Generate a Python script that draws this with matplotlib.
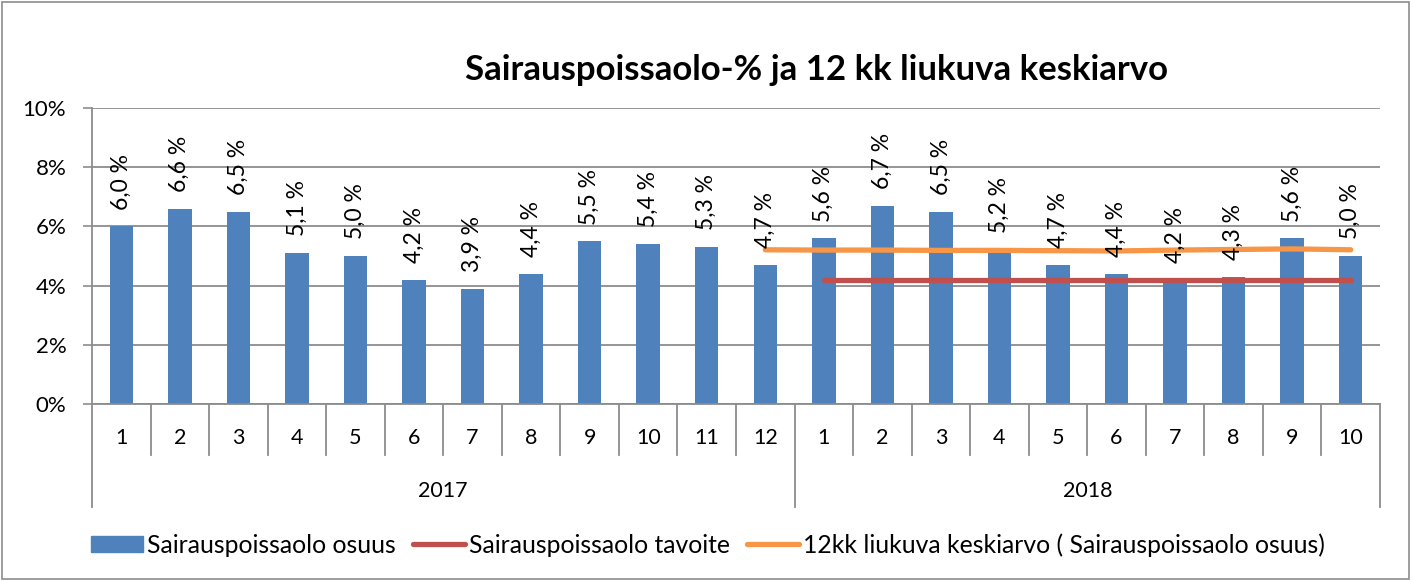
import matplotlib
matplotlib.use("Agg")
import matplotlib.pyplot as plt
from matplotlib.patches import Rectangle, Patch
from matplotlib.lines import Line2D
from matplotlib.ticker import FuncFormatter

plt.rcParams['font.family'] = ['Lato', 'DejaVu Sans']

# data
years = ["2017", "2018"]
months_2017 = ["1", "2", "3", "4", "5", "6", "7", "8", "9", "10", "11", "12"]
months_2018 = ["1", "2", "3", "4", "5", "6", "7", "8", "9", "10"]
osuus = [6.0, 6.6, 6.5, 5.1, 5.0, 4.2, 3.9, 4.4, 5.5, 5.4, 5.3, 4.7,
         5.6, 6.7, 6.5, 5.2, 4.7, 4.4, 4.2, 4.3, 5.6, 5.0]
tavoite = [4.2, 4.2, 4.2, 4.2, 4.2, 4.2, 4.2, 4.2, 4.2, 4.2]  # 2018 1-10
liukuva = [5.21, 5.20, 5.20, 5.19, 5.19, 5.18, 5.17, 5.20, 5.22, 5.24, 5.21]  # 2017/12 - 2018/10

title = "Sairauspoissaolo-% ja 12 kk liukuva keskiarvo"
legend_labels = ["Sairauspoissaolo osuus", "Sairauspoissaolo tavoite",
                 "12kk liukuva keskiarvo ( Sairauspoissaolo osuus)"]

BLUE = "#4F81BD"
RED = "#C0504D"
ORANGE = "#F79646"
GRID = "#8C8C8C"
FS = 15.5

months = months_2017 + months_2018
x = list(range(len(months)))
n17 = len(months_2017)

fig = plt.figure(figsize=(14.14, 5.81), dpi=100)
ax = fig.add_axes([92 / 1414, 1 - 404 / 581, (1380 - 92) / 1414, (404 - 108) / 581])

ax.bar(x, osuus, width=0.40, color=BLUE, zorder=2)
ax.plot(x[n17:], tavoite, color=RED, lw=3.8, solid_capstyle="round", zorder=3)
ax.plot(x[n17 - 1:], liukuva, color=ORANGE, lw=3.8, solid_capstyle="round", zorder=3)

# data labels, rotated like excel
for xi, v in zip(x, osuus):
    ax.annotate(f"{v:.1f} %".replace(".", ","), (xi, v), xytext=(0, 12),
                textcoords="offset points", rotation=90, ha="center", va="bottom",
                fontsize=16.5, zorder=4)

ax.set_xlim(-0.5, len(months) - 0.5)
ax.set_ylim(0, 10)
ax.set_yticks([0, 2, 4, 6, 8, 10])
ax.yaxis.set_major_formatter(FuncFormatter(lambda v, p: f"{v:.0f}%"))
ax.tick_params(axis="y", length=6.5, width=1.2, color=GRID, labelsize=16, pad=12)
ax.grid(axis="y", color=GRID, lw=1.3, zorder=0)
ax.set_xticks([])

for s in ["top", "right"]:
    ax.spines[s].set_visible(False)
ax.spines["left"].set_color(GRID)
ax.spines["bottom"].set_color(GRID)
ax.spines["left"].set_linewidth(1.3)
ax.spines["bottom"].set_linewidth(1.3)

# category separators (months short, years long)
trans = ax.get_xaxis_transform()
y_month = -51 / 296
y_year = -103 / 296
for i in range(len(months) + 1):
    xb = i - 0.5
    bottom = y_year if i in (0, n17, len(months)) else y_month
    ax.plot([xb, xb], [0, bottom], color=GRID, lw=1.3, transform=trans, clip_on=False)

for xi, m in zip(x, months):
    ax.text(xi, -34 / 296, m, transform=trans, ha="center", va="center", fontsize=FS)

ax.text((n17 - 1) / 2, -87 / 296, years[0], transform=trans, ha="center", va="center", fontsize=FS)
ax.text(n17 + (len(months_2018) - 1) / 2, -87 / 296, years[1], transform=trans,
        ha="center", va="center", fontsize=FS)

fig.text(816 / 1414, 1 - 70 / 581, title, ha="center", va="center",
         fontsize=25, fontweight="bold")

handles = [Patch(color=BLUE),
           Line2D([], [], color=RED, lw=3.8, solid_capstyle="round"),
           Line2D([], [], color=ORANGE, lw=3.8, solid_capstyle="round")]
fig.legend(handles, legend_labels, loc="center", bbox_to_anchor=(708 / 1414, 1 - 545 / 581),
           ncol=3, frameon=False, fontsize=17.8, handlelength=2.1, handleheight=0.62,
           handletextpad=0.15, columnspacing=0.7)

fig.patches.append(Rectangle((2 / 1414, 2 / 581), 1407 / 1414, 577 / 581,
                             transform=fig.transFigure, fill=False, edgecolor="#8C8C8C", lw=1.2))

fig.savefig("out.png", dpi=100)
